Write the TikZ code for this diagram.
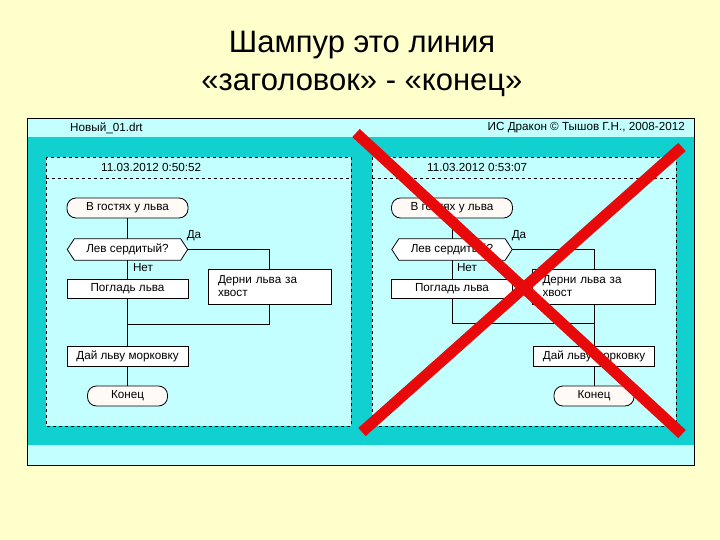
\documentclass[tikz,border=0pt]{standalone}
\usepackage{fontspec}
\setmainfont{Liberation Sans}
\usetikzlibrary{calc}
\definecolor{bgyel}{RGB}{255,255,204}
\definecolor{lcyan}{RGB}{196,255,255}
\definecolor{teal2}{RGB}{16,208,208}
\definecolor{xred}{RGB}{232,10,10}
\definecolor{termfill}{RGB}{255,250,245}
\tikzset{
  lbl/.style={font=\fontsize{11.7}{13}\selectfont, inner sep=0pt},
  act/.style={draw=black, fill=white, line width=0.8pt, inner sep=0pt, minimum width=121pt, minimum height=20pt, font=\fontsize{11.7}{13}\selectfont},
  term/.style={draw=black, fill=termfill, line width=0.8pt, inner sep=0pt, minimum height=20pt, rounded corners=9pt, font=\fontsize{11.7}{13}\selectfont},
  qbox/.style={inner sep=0pt, minimum width=120pt, minimum height=21pt, font=\fontsize{11.7}{13}\selectfont},
  conn/.style={line width=0.8pt, black},
  panel/.style={draw=black, dashed, line width=0.6pt, fill=lcyan},
  cross/.style={xred, line width=11pt}
}
\newcommand{\hexa}[1]{%
  \fill[white] (#1.west) -- ($(#1.north west)+(7,0)$) -- ($(#1.north east)+(-7,0)$) -- (#1.east) -- ($(#1.south east)+(-7,0)$) -- ($(#1.south west)+(7,0)$) -- cycle;
  \draw[conn] (#1.west) -- ($(#1.north west)+(7,0)$) -- ($(#1.north east)+(-7,0)$) -- (#1.east) -- ($(#1.south east)+(-7,0)$) -- ($(#1.south west)+(7,0)$) -- cycle;}
\begin{document}
\begin{tikzpicture}[x=1pt,y=-1pt]
\useasboundingbox (0,0) rectangle (720,540);
\fill[bgyel] (0,0) rectangle (720,540);
% title
\node[font=\fontsize{31}{36}\selectfont] (t1) at (362,45) {Шампур это линия};
\node[font=\fontsize{31}{36}\selectfont] (t2) at (362,85) {«заголовок» - «конец»};
% frame
\fill[lcyan] (27,118) rectangle (694,465);
\fill[teal2] (27,137) rectangle (694,445);
\draw[line width=0.9pt] (27,118) rectangle (694,465);
\node[lbl, anchor=west] (fname) at (70,128) {Новый\_01.drt};
\node[lbl, anchor=east] (copy) at (685,128) {ИС Дракон © Тышов Г.Н., 2008-2012};
% panels
\draw[panel] (46,157) rectangle (351,426);
\draw[dashed, line width=0.6pt] (46,178) -- (351,178);
\draw[panel] (372,157) rectangle (676,426);
\draw[dashed, line width=0.6pt] (372,178) -- (676,178);
\node[lbl, anchor=west] (d1) at (101,167) {11.03.2012 0:50:52};
\node[lbl, anchor=west] (d2) at (427,167) {11.03.2012 0:53:07};
% ---------- left diagram
\node[term, minimum width=121pt] (ls) at (127.5,208) {В гостях у льва};
\node[qbox] (lq) at (127.5,249.5) {};
\node[act, minimum height=19pt] (lp) at (127.5,289) {Погладь льва};
\node[act, minimum width=123pt, minimum height=35pt, align=left, text width=103pt] (ld) at (269.5,286.5) {Дерни льва за\\хвост};
\node[act] (lm) at (127.5,356) {Дай льву морковку};
\node[term, minimum width=80pt] (le) at (127.5,396) {Конец};
\coordinate (lj) at (127.5,324);
\draw[conn] (ls) -- (lq.north);
\draw[conn] (lq.east) -| (ld.north);
\draw[conn] (lq.south) -- (lp.north);
\draw[conn] (lp.south) -- (lm.north);
\draw[conn] (ld.south) |- (lj);
\draw[conn] (lm) -- (le);
\hexa{lq}
\node[qbox] at (lq) {Лев сердитый?};
\node[lbl] (lda) at (194,236) {Да};
\node[lbl] (lnet) at (143,268) {Нет};
% ---------- right diagram
\node[term, minimum width=121pt] (rs) at (452,208) {В гостях у льва};
\node[qbox] (rq) at (452,249.5) {};
\node[act, minimum height=19pt] (rp) at (452,289) {Погладь льва};
\node[act, minimum width=123pt, minimum height=35pt, align=left, text width=103pt] (rd) at (594,286.5) {Дерни льва за\\хвост};
\node[act] (rm) at (594,356) {Дай льву морковку};
\node[term, minimum width=80pt] (re) at (594,396) {Конец};
\coordinate (rj) at (594,323);
\draw[conn] (rs) -- (rq.north);
\draw[conn] (rq.east) -| (rd.north);
\draw[conn] (rq.south) -- (rp.north);
\draw[conn] (rp.south) |- (rj);
\draw[conn] (rd.south) -- (rm.north);
\draw[conn] (rm) -- (re);
\hexa{rq}
\node[qbox] at (rq) {Лев сердитый?};
\node[lbl] (rda) at (519,236) {Да};
\node[lbl] (rnet) at (467,268) {Нет};
% red cross
\coordinate (x1) at (356,133);
\coordinate (x2) at (682,434);
\coordinate (x3) at (682,147);
\coordinate (x4) at (362,432);
\draw[cross] (x1) -- (x2);
\draw[cross] (x3) -- (x4);
\end{tikzpicture}
\end{document}
